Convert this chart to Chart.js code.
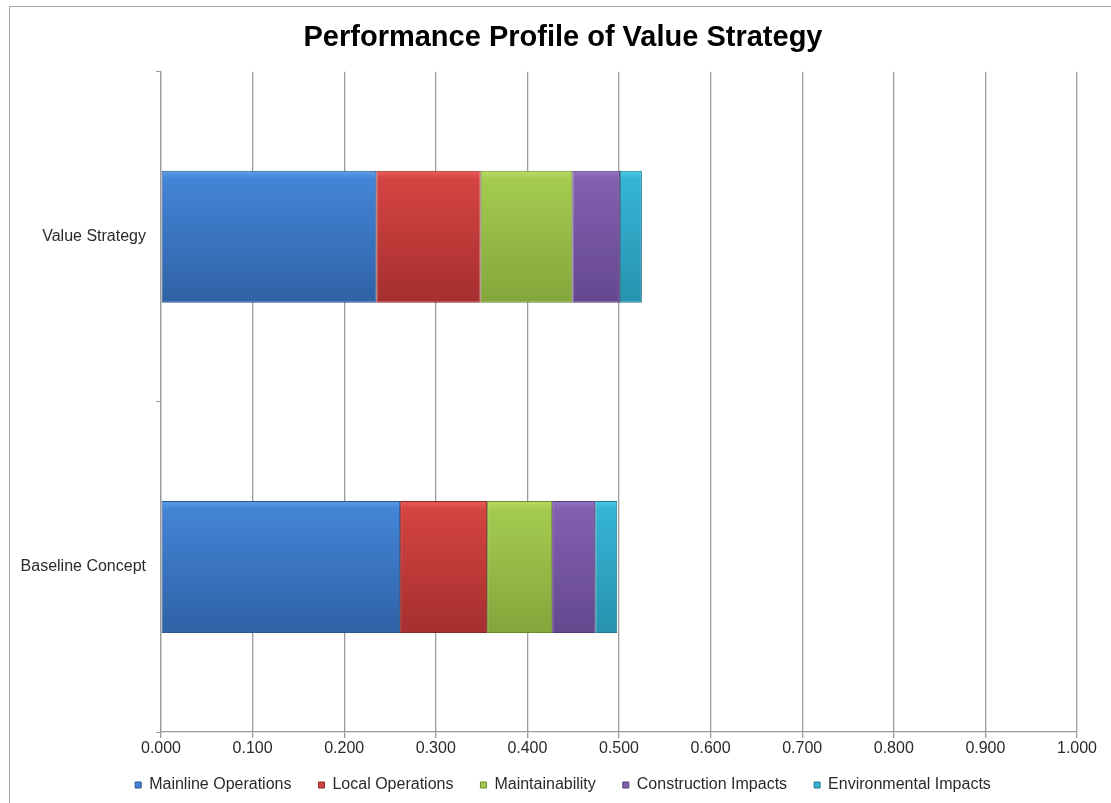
<!DOCTYPE html>
<html>
<head>
<meta charset="utf-8">
<script src="https://cdn.jsdelivr.net/npm/chart.js@4.4.1/dist/chart.umd.min.js"></script>
<style>
  html, body { margin: 0; padding: 0; background: #fff; overflow: hidden; }
  #frame {
    position: absolute; left: 9px; top: 6px; width: 1120px; height: 820px;
    border: 1px solid #a6a6a6; box-sizing: border-box;
  }
  #wrap { position: absolute; left: 9px; top: 6px; width: 1108px; height: 797px; }
</style>
</head>
<body>
<div id="frame"></div>
<div id="wrap"><canvas id="chart"></canvas></div>
<script>
const categories = ["Value Strategy", "Baseline Concept"];
const seriesNames = ["Mainline Operations", "Local Operations", "Maintainability", "Construction Impacts", "Environmental Impacts"];
const mainline = [0.235, 0.261];
const localOps = [0.114, 0.095];
const maintainability = [0.100, 0.071];
const construction = [0.052, 0.047];
const environmental = [0.024, 0.024];
const xTicks = [0, 0.1, 0.2, 0.3, 0.4, 0.5, 0.6, 0.7, 0.8, 0.9, 1.0];

const FONT = "'Liberation Sans', Arial, sans-serif";
const GRID = "#9c9c9c";

// [light, mid, dark, border]
const palette = [
  ["#5d9de6", "#4484d6", "#2f62a6", "#2a5590"],
  ["#ea5c5a", "#d44442", "#a52f2f", "#8a2a28"],
  ["#badd62", "#a4cb50", "#83a63b", "#6a8a2c"],
  ["#9474c4", "#8260b0", "#65488e", "#553a78"],
  ["#4acaea", "#36b4d6", "#2792ae", "#207a90"],
];

function barFill(i) {
  const [light, mid, dark] = palette[i];
  return (ctx) => {
    const ys = ctx.chart.scales.y;
    if (ctx.type !== "data" || !ys) return mid;
    const c = ys.getPixelForValue(ctx.dataIndex);
    const h = (ys.height / categories.length) * 0.4 / 2;
    const g = ctx.chart.ctx.createLinearGradient(0, c - h, 0, c + h);
    g.addColorStop(0, light);
    g.addColorStop(0.06, mid);
    g.addColorStop(1, dark);
    return g;
  };
}

const values = [mainline, localOps, maintainability, construction, environmental];

new Chart(document.getElementById("chart"), {
  type: "bar",
  data: {
    labels: categories,
    datasets: values.map((v, i) => ({
      label: seriesNames[i],
      data: v,
      backgroundColor: barFill(i),
      borderColor: palette[i][3],
      borderWidth: 1,
      borderSkipped: false,
      categoryPercentage: 0.4,
      barPercentage: 1.0,
    })),
  },
  options: {
    indexAxis: "y",
    responsive: true,
    maintainAspectRatio: false,
    animation: false,
    layout: { padding: 0 },
    scales: {
      x: {
        stacked: true,
        min: 0,
        max: 1,
        afterBuildTicks: (scale) => { scale.ticks = xTicks.map((v) => ({ value: v })); },
        afterFit: (scale) => { scale.height = 26; scale.paddingRight = 40; },
        ticks: {
          callback: (v) => Number(v).toFixed(3),
          color: "#2a2a2a",
          font: { family: FONT, size: 16 },
          padding: 1,
          maxRotation: 0,
        },
        grid: { color: GRID, lineWidth: 1.3, tickLength: 6, tickColor: GRID },
        border: { color: GRID, width: 1.3 },
      },
      y: {
        stacked: true,
        afterFit: (scale) => { scale.width = 152; },
        ticks: {
          color: "#2a2a2a",
          font: { family: FONT, size: 16 },
          padding: 10,
        },
        grid: { offset: true, drawOnChartArea: false, tickLength: 5, color: GRID },
        border: { color: GRID, width: 1.3 },
      },
    },
    plugins: {
      title: {
        display: true,
        text: "Performance Profile of Value Strategy",
        color: "#000",
        font: { family: FONT, size: 29, weight: "bold" },
        padding: { top: 15, bottom: 16 },
      },
      legend: {
        position: "bottom",
        labels: {
          color: "#2a2a2a",
          font: { family: FONT, size: 16 },
          boxWidth: 6,
          boxHeight: 6,
          padding: 19,
          generateLabels: (chart) => seriesNames.map((n, i) => ({
            // en space keeps the wider gap between entries
            text: i < seriesNames.length - 1 ? n + "\u2002" : n,
            fillStyle: palette[i][1],
            strokeStyle: palette[i][3],
            lineWidth: 1,
            datasetIndex: i,
            fontColor: "#2a2a2a",
          })),
        },
      },
      tooltip: { enabled: false },
    },
  },
});
</script>
</body>
</html>
